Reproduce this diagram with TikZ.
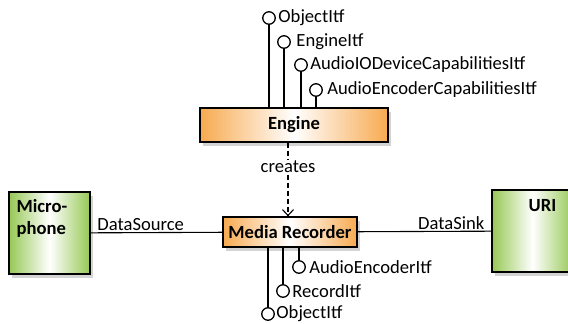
\documentclass[tikz,border=0pt]{standalone}
\usepackage{fontspec}
\setmainfont{Carlito}
\usetikzlibrary{positioning,shadows,arrows.meta}

\definecolor{objorange}{RGB}{247,170,80}
\definecolor{objgreen}{RGB}{150,200,85}
\newcommand{\diagfont}{\fontsize{18.6}{21.5}\selectfont}

\tikzset{
  object/.style={draw, line width=1.3pt, font=\diagfont\bfseries,
    left color=objorange, right color=objorange, middle color=white,
    drop shadow={opacity=0.35, shadow xshift=3pt, shadow yshift=-4pt}},
  device/.style={object, left color=objgreen, right color=objgreen,
    middle color=white, minimum width=81pt, minimum height=82pt},
  itf/.style={circle, draw, line width=1.3pt, fill=white, inner sep=0pt,
    minimum size=12.5pt},
  stem/.style={line width=1.4pt},
  link/.style={line width=1.1pt},
}

\begin{document}
\begin{tikzpicture}[x=1pt, y=-1pt, font=\diagfont]
    \useasboundingbox (0,0) rectangle (568,324);

    \node[object, minimum width=188pt, minimum height=34pt] (eng) at (294,125) {Engine};
    \node[object, minimum width=134pt, minimum height=30pt] (rec) at (290,232) {Media Recorder};

    \node[device, label={[anchor=north west, font=\diagfont\bfseries, align=left,
      inner sep=0pt, xshift=8pt, yshift=-8pt]north west:Micro-\\phone}] (mic) at (49.5,233) {};
    \node[device, label={[anchor=north, font=\diagfont\bfseries, inner sep=0pt,
      xshift=10pt, yshift=-10pt]north:URI}] (uri) at (532.5,231) {};

    \node[itf, label={[xshift=-1pt]right:ObjectItf}] (eo) at (269,18) {};
    \node[itf, label={[xshift=2pt]right:EngineItf}] (ee) at (284,42) {};
    \node[itf, label={[xshift=-1pt]right:AudioIODeviceCapabilitiesItf}] (ea) at (301,65) {};
    \node[itf, label={[xshift=1pt]right:AudioEncoderCapabilitiesItf}] (ec) at (316,90) {};

    \node[itf, label={[xshift=0pt]right:AudioEncoderItf}] (ra) at (299,267) {};
    \node[itf, label={[xshift=-1pt]right:RecordItf}] (rr) at (283,291) {};
    \node[itf, label={[xshift=-2pt]right:ObjectItf}] (ro) at (268,314) {};

    \foreach \i in {eo,ee,ea,ec}
      \draw[stem] (\i) -- (\i |- eng.north);
    \foreach \i in {ra,rr,ro}
      \draw[stem] (\i) -- (\i |- rec.south);

    \draw[link, dash pattern=on 5pt off 3pt, -{Straight Barb[length=6pt, width=11pt]}]
      ([xshift=-6pt]eng.south) -- node[pos=0.33, fill=white, inner sep=1pt] {creates}
      ([xshift=-6pt]eng.south |- rec.north);

    \draw[link] (mic) -- node[pos=0.38, above, inner sep=1pt] {DataSource} (rec);
    \draw[link] (rec) -- node[pos=0.7, above, inner sep=1pt] {DataSink} (uri);
\end{tikzpicture}
\end{document}
